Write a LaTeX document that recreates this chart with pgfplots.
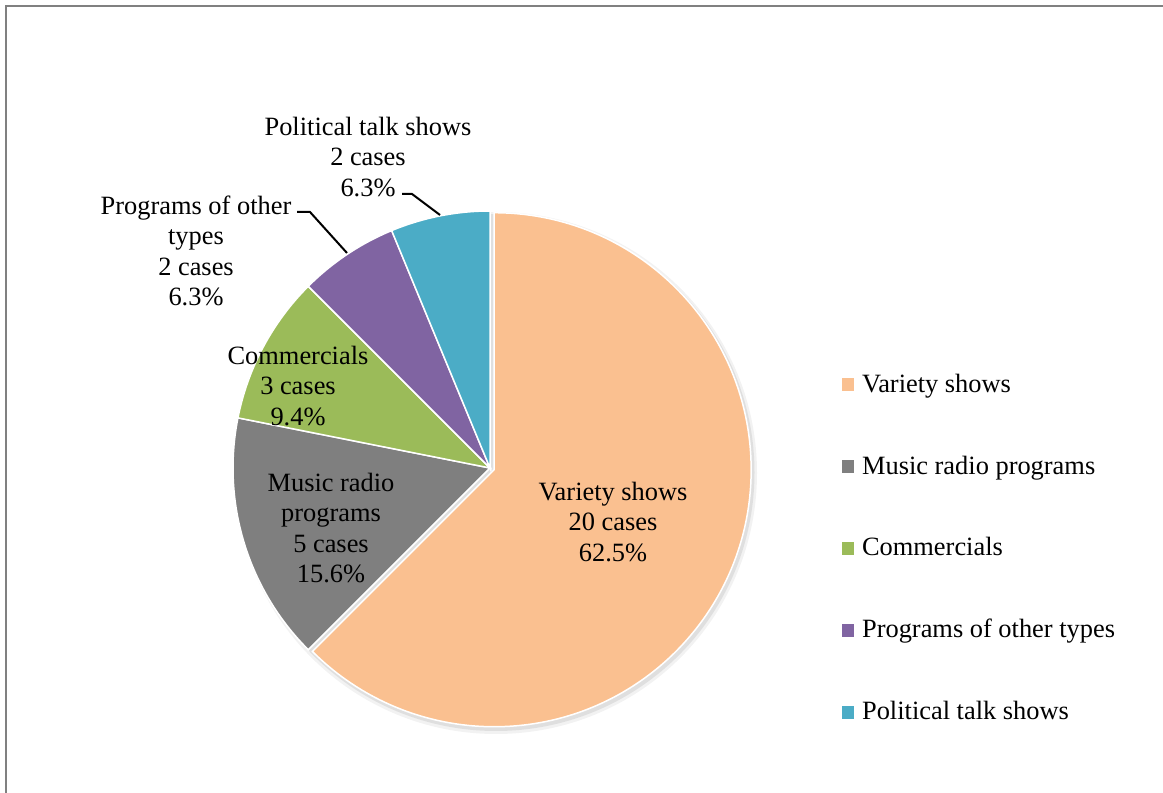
\documentclass[border=0pt]{standalone}
\usepackage{pgfplots}
\pgfplotsset{compat=1.18}
\usepackage{pgfplotstable}
\usepackage{fontspec}
\setmainfont{Liberation Serif}
\definecolor{varcol}{HTML}{FAC090}
\definecolor{muscol}{HTML}{7F7F7F}
\definecolor{comcol}{HTML}{9BBB59}
\definecolor{othcol}{HTML}{8064A2}
\definecolor{polcol}{HTML}{4BACC6}
\newcommand{\lbl}{\fontsize{26.4}{30.5}\selectfont}

\pgfplotstableread{
category value
Variety 20
Music 5
Commercials 3
Other 2
Political 2
}\piedata

\pgfplotstablegetelem{0}{value}\of\piedata\edef\vA{\pgfplotsretval}
\pgfplotstablegetelem{1}{value}\of\piedata\edef\vB{\pgfplotsretval}
\pgfplotstablegetelem{2}{value}\of\piedata\edef\vC{\pgfplotsretval}
\pgfplotstablegetelem{3}{value}\of\piedata\edef\vD{\pgfplotsretval}
\pgfplotstablegetelem{4}{value}\of\piedata\edef\vE{\pgfplotsretval}
\pgfmathsetmacro\tot{\vA+\vB+\vC+\vD+\vE}
\pgfmathsetmacro\aA{90-360*\vA/\tot}
\pgfmathsetmacro\aB{\aA-360*\vB/\tot}
\pgfmathsetmacro\aC{\aB-360*\vC/\tot}
\pgfmathsetmacro\aD{\aC-360*\vD/\tot}
\pgfmathsetmacro\aE{\aD-360*\vE/\tot}
\pgfmathsetmacro\mA{(90+\aA)/2}
\pgfmathsetmacro\cx{490}
\pgfmathsetmacro\cy{325}
\pgfmathsetmacro\vx{\cx+4.5*cos(\mA)}
\pgfmathsetmacro\vy{\cy+4.5*sin(\mA)}

\begin{document}
\begin{tikzpicture}
\path[use as bounding box] (0,0) rectangle (1163pt,793pt);
\clip (0,0) rectangle (1163pt,793pt);
\begin{axis}[
  at={(0,0)}, anchor=south west,
  scale only axis, width=1163pt, height=793pt,
  xmin=0, xmax=1163, ymin=0, ymax=793,
  hide axis, clip=false,
  legend image code/.code={\fill[#1] (0pt,-5.8pt) rectangle (11.6pt,5.8pt);},
  legend style={draw=none, fill=none, inner sep=0pt, outer sep=0pt,
    at={(axis cs:841.7,420)}, anchor=north west,
    row sep=60pt, column sep=8.4pt, font=\lbl,
    nodes={inner sep=0pt, text height=19pt, text depth=3pt, anchor=west}},
  legend cell align=left,
]
\addlegendimage{varcol}
\addlegendentry{Variety shows}
\addlegendimage{muscol}
\addlegendentry{Music radio programs}
\addlegendimage{comcol}
\addlegendentry{Commercials}
\addlegendimage{othcol}
\addlegendentry{Programs of other types}
\addlegendimage{polcol}
\addlegendentry{Political talk shows}

% chart area frame
\draw[black!50, line width=2.2pt] (axis cs:6,-30) -- (axis cs:6,787) -- (axis cs:1200,787);

% shadow
\fill[black, opacity=0.05] (axis cs:496,320) circle[radius=261pt];
\fill[black, opacity=0.08] (axis cs:496,320.5) circle[radius=258.5pt];

% wedges
\fill[varcol, draw=white, line width=1.5pt] (axis cs:\vx,\vy) -- ++(90:257pt) arc[start angle=90, end angle=\aA, radius=257pt] -- cycle;
\fill[muscol, draw=white, line width=1.5pt] (axis cs:\cx,\cy) -- ++(\aA:257pt) arc[start angle=\aA, end angle=\aB, radius=257pt] -- cycle;
\fill[comcol, draw=white, line width=1.5pt] (axis cs:\cx,\cy) -- ++(\aB:257pt) arc[start angle=\aB, end angle=\aC, radius=257pt] -- cycle;
\fill[othcol, draw=white, line width=1.5pt] (axis cs:\cx,\cy) -- ++(\aC:257pt) arc[start angle=\aC, end angle=\aD, radius=257pt] -- cycle;
\fill[polcol, draw=white, line width=1.5pt] (axis cs:\cx,\cy) -- ++(\aD:257pt) arc[start angle=\aD, end angle=\aE, radius=257pt] -- cycle;

% leader lines
\draw[black, line width=2pt] (axis cs:402,599) -- (axis cs:412,599) -- (axis cs:440,578);
\draw[black, line width=2pt] (axis cs:297,581) -- (axis cs:310,581) -- (axis cs:347,540);

% data labels
\node[font=\lbl, align=center] at (axis cs:368,636) {Political talk shows\\2 cases\\6.3\%};
\node[font=\lbl, align=center] at (axis cs:196,542) {Programs of other\\types\\2 cases\\6.3\%};
\node[font=\lbl, align=center] at (axis cs:298,407) {Commercials\\3 cases\\9.4\%};
\node[font=\lbl, align=center] at (axis cs:331,265) {Music radio\\programs\\5 cases\\15.6\%};
\node[font=\lbl, align=center] at (axis cs:613,271) {Variety shows\\20 cases\\62.5\%};
\end{axis}
\end{tikzpicture}
\end{document}
